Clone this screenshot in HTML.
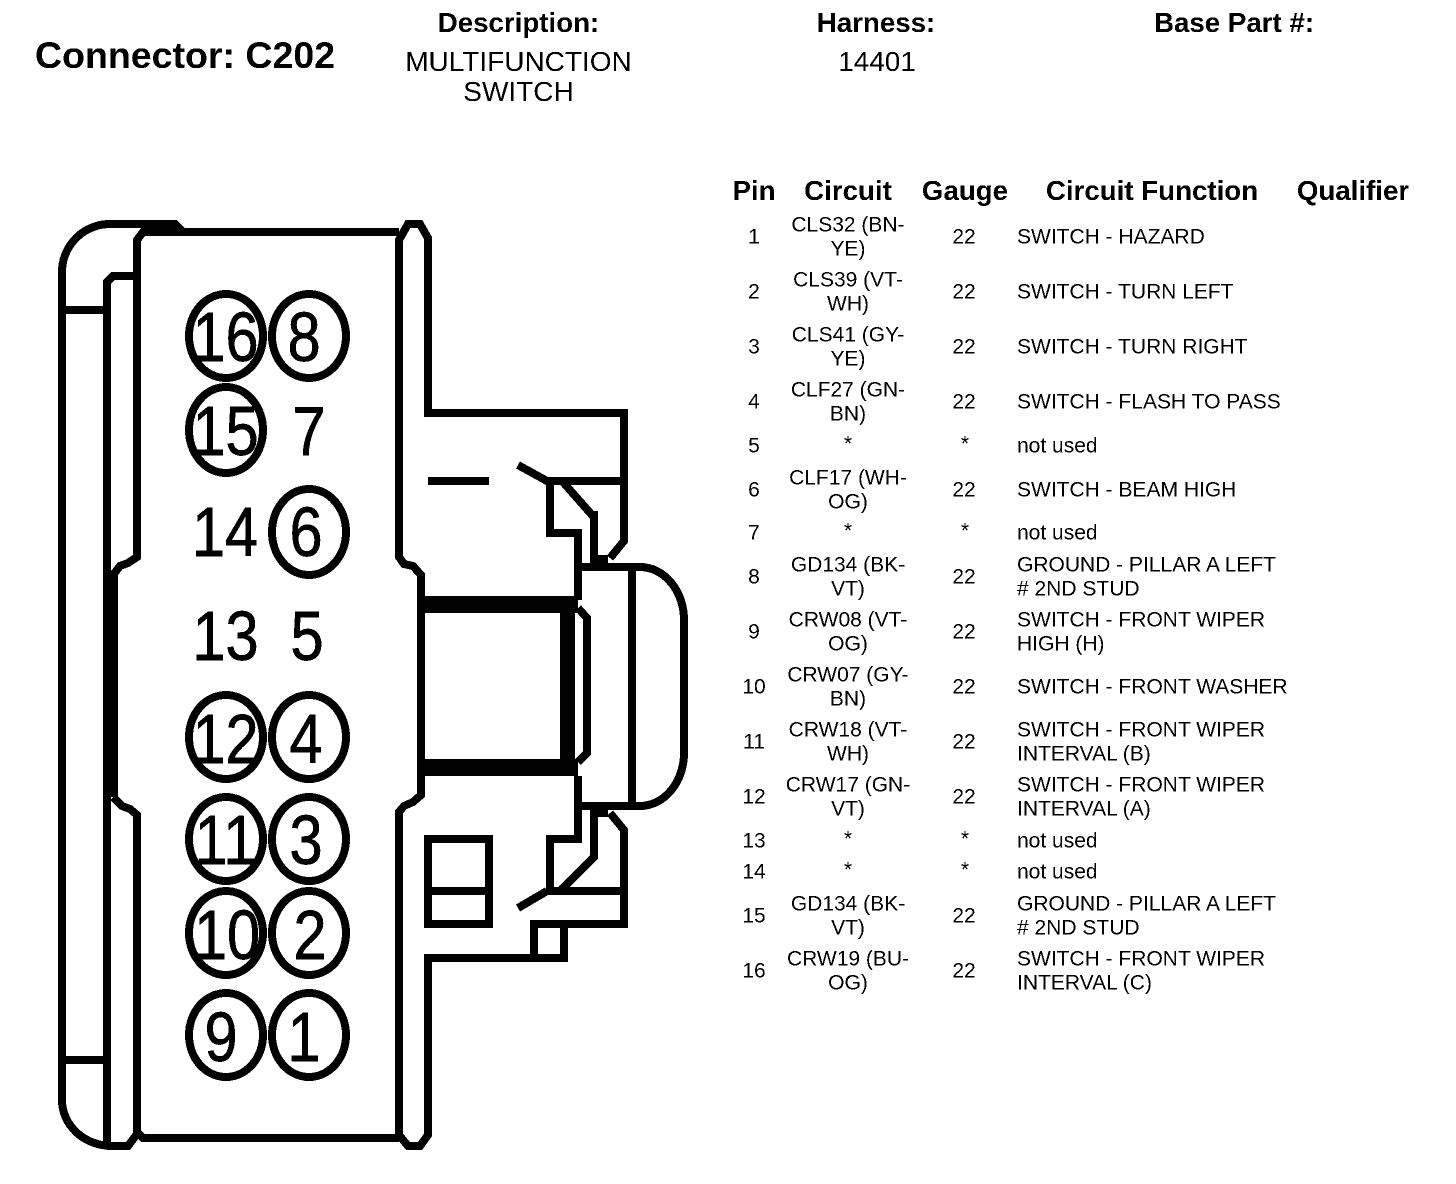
<!DOCTYPE html>
<html>
<head>
<meta charset="utf-8">
<style>
html,body{margin:0;padding:0;background:#fff;width:1456px;height:1184px;overflow:hidden}
svg{display:block}
text{font-family:"Liberation Sans",Arial,sans-serif;fill:#000}
.b{font-weight:700;font-size:27.7px}
.h{font-size:28px}
.t{font-size:21px}
.m{text-anchor:middle}
.d{font-size:70px;text-anchor:middle;stroke:#000;stroke-width:.8px}
.s{fill:none;stroke:#000;stroke-width:8;stroke-linejoin:miter;stroke-linecap:butt}
</style>
</head>
<body>
<svg width="1456" height="1184" viewBox="0 0 1456 1184" xmlns="http://www.w3.org/2000/svg">
<defs>
<filter id="bw" x="0" y="0" width="100%" height="100%" color-interpolation-filters="sRGB">
<feComponentTransfer>
<feFuncR type="discrete" tableValues="0 1"/>
<feFuncG type="discrete" tableValues="0 1"/>
<feFuncB type="discrete" tableValues="0 1"/>
</feComponentTransfer>
</filter>
</defs>
<g filter="url(#bw)">
<rect x="0" y="0" width="1456" height="1184" fill="#fff"/>

<!-- Header -->
<text x="35" y="68" font-weight="700" font-size="37.5px">Connector: C202</text>
<text class="b m" x="518.5" y="32">Description:</text>
<text class="h m" x="518.5" y="71">MULTIFUNCTION</text>
<text class="h m" x="518.5" y="101">SWITCH</text>
<text class="b m" x="876" y="32">Harness:</text>
<text class="h m" x="877" y="71">14401</text>
<text class="b m" x="1234" y="32">Base Part #:</text>

<!-- Table head -->
<text class="b m" x="754" y="200">Pin</text>
<text class="b m" x="848" y="200">Circuit</text>
<text class="b m" x="965" y="200">Gauge</text>
<text class="b m" x="1152" y="200">Circuit Function</text>
<text class="b m" x="1353" y="200">Qualifier</text>

<g transform="translate(0 -0.5)">
<!-- Pin column -->
<text class="t m" x="754" y="244">1</text>
<text class="t m" x="754" y="299">2</text>
<text class="t m" x="754" y="354">3</text>
<text class="t m" x="754" y="409">4</text>
<text class="t m" x="754" y="453">5</text>
<text class="t m" x="754" y="497">6</text>
<text class="t m" x="754" y="540">7</text>
<text class="t m" x="754" y="584">8</text>
<text class="t m" x="754" y="639">9</text>
<text class="t m" x="754" y="694">10</text>
<text class="t m" x="754" y="749">11</text>
<text class="t m" x="754" y="804">12</text>
<text class="t m" x="754" y="848">13</text>
<text class="t m" x="754" y="879">14</text>
<text class="t m" x="754" y="923">15</text>
<text class="t m" x="754" y="978">16</text>

<!-- Circuit column -->
<text class="t m" x="848" y="232">CLS32 (BN-</text><text class="t m" x="848" y="256">YE)</text>
<text class="t m" x="848" y="287">CLS39 (VT-</text><text class="t m" x="848" y="311">WH)</text>
<text class="t m" x="848" y="342">CLS41 (GY-</text><text class="t m" x="848" y="366">YE)</text>
<text class="t m" x="848" y="397">CLF27 (GN-</text><text class="t m" x="848" y="421">BN)</text>
<text class="t m" x="848" y="451">*</text>
<text class="t m" x="848" y="485">CLF17 (WH-</text><text class="t m" x="848" y="509">OG)</text>
<text class="t m" x="848" y="538">*</text>
<text class="t m" x="848" y="572">GD134 (BK-</text><text class="t m" x="848" y="596">VT)</text>
<text class="t m" x="848" y="627">CRW08 (VT-</text><text class="t m" x="848" y="651">OG)</text>
<text class="t m" x="848" y="682">CRW07 (GY-</text><text class="t m" x="848" y="706">BN)</text>
<text class="t m" x="848" y="737">CRW18 (VT-</text><text class="t m" x="848" y="761">WH)</text>
<text class="t m" x="848" y="792">CRW17 (GN-</text><text class="t m" x="848" y="816">VT)</text>
<text class="t m" x="848" y="846">*</text>
<text class="t m" x="848" y="877">*</text>
<text class="t m" x="848" y="911">GD134 (BK-</text><text class="t m" x="848" y="935">VT)</text>
<text class="t m" x="848" y="966">CRW19 (BU-</text><text class="t m" x="848" y="990">OG)</text>

<!-- Gauge column -->
<text class="t m" x="964" y="244">22</text>
<text class="t m" x="964" y="299">22</text>
<text class="t m" x="964" y="354">22</text>
<text class="t m" x="964" y="409">22</text>
<text class="t m" x="965" y="451">*</text>
<text class="t m" x="964" y="497">22</text>
<text class="t m" x="965" y="538">*</text>
<text class="t m" x="964" y="584">22</text>
<text class="t m" x="964" y="639">22</text>
<text class="t m" x="964" y="694">22</text>
<text class="t m" x="964" y="749">22</text>
<text class="t m" x="964" y="804">22</text>
<text class="t m" x="965" y="846">*</text>
<text class="t m" x="965" y="877">*</text>
<text class="t m" x="964" y="923">22</text>
<text class="t m" x="964" y="978">22</text>

<!-- Function column -->
<text class="t" x="1017" y="244">SWITCH - HAZARD</text>
<text class="t" x="1017" y="299">SWITCH - TURN LEFT</text>
<text class="t" x="1017" y="354">SWITCH - TURN RIGHT</text>
<text class="t" x="1017" y="409">SWITCH - FLASH TO PASS</text>
<text class="t" x="1017" y="453">not used</text>
<text class="t" x="1017" y="497">SWITCH - BEAM HIGH</text>
<text class="t" x="1017" y="540">not used</text>
<text class="t" x="1017" y="572">GROUND - PILLAR A LEFT</text><text class="t" x="1017" y="596"># 2ND STUD</text>
<text class="t" x="1017" y="627">SWITCH - FRONT WIPER</text><text class="t" x="1017" y="651">HIGH (H)</text>
<text class="t" x="1017" y="694">SWITCH - FRONT WASHER</text>
<text class="t" x="1017" y="737">SWITCH - FRONT WIPER</text><text class="t" x="1017" y="761">INTERVAL (B)</text>
<text class="t" x="1017" y="792">SWITCH - FRONT WIPER</text><text class="t" x="1017" y="816">INTERVAL (A)</text>
<text class="t" x="1017" y="848">not used</text>
<text class="t" x="1017" y="879">not used</text>
<text class="t" x="1017" y="911">GROUND - PILLAR A LEFT</text><text class="t" x="1017" y="935"># 2ND STUD</text>
<text class="t" x="1017" y="966">SWITCH - FRONT WIPER</text><text class="t" x="1017" y="990">INTERVAL (C)</text>
</g>

<!-- Connector body -->
<g class="s">
<path d="M62 1100 V272 A48 48 0 0 1 110 224 H175 L183 232"/>
<path d="M62 1100 A50 46 0 0 0 112 1146 H128 L137 1134"/>
<path d="M62 310 H103"/>
<path d="M62 1060 H103"/>
<path d="M107 1146 V282 L113 276 H137"/>
<path d="M399 232 H143 L137 240 V557 L128 563 L120 566 L113 575"/>
<path d="M113 797 L122 806 L130 809 L137 815 V1132 L143 1138 H399"/>

<path d="M610 558 L624 541 V413 H428 V238 L420 224 H408 L399 240 V557 L404 564 L413 566 L421 575 V795 L413 802 L404 806 L399 812 V1135 L408 1146 H420 L428 1135 V958 H564 V924"/>
<path d="M534 958 V924 H624 V830 L610 813"/>

<path d="M428 481 H489"/>
<path d="M518 465 L547 481 H624"/>
<path d="M550 481 V533 H578 V600"/>
<path d="M562 481 L592 515 H594 V559 H608"/>
<path d="M578 567 H640 A44 53 0 0 1 684 620 V753 A44 53 0 0 1 640 806 H578"/>
<path d="M632 567 V806"/>
<path d="M578 608 L587 618 V753 L578 762"/>
<path d="M578 776 V839 H550 V891 H624"/>
<path d="M518 908 L547 891"/>
<path d="M560 891 L594 857 V813 H608"/>
<rect x="428" y="839" width="61" height="85"/>
<path d="M428 891 H489"/>

<ellipse cx="226" cy="336" rx="37" ry="42"/>
<ellipse cx="309" cy="336" rx="37" ry="42"/>
<ellipse cx="226" cy="430" rx="37" ry="43"/>
<ellipse cx="309" cy="532" rx="37" ry="43"/>
<ellipse cx="226" cy="737" rx="37" ry="42"/>
<ellipse cx="309" cy="737" rx="37" ry="42"/>
<ellipse cx="226" cy="839" rx="37" ry="42"/>
<ellipse cx="309" cy="839" rx="37" ry="42"/>
<ellipse cx="226" cy="933" rx="37" ry="42"/>
<ellipse cx="309" cy="933" rx="37" ry="42"/>
<ellipse cx="226" cy="1035" rx="37" ry="42"/>
<ellipse cx="309" cy="1035" rx="37" ry="42"/>
</g>
<rect x="103" y="573" width="15" height="224" fill="#000"/>
<rect x="417" y="596" width="161" height="17" fill="#000"/>
<rect x="417" y="759" width="161" height="17" fill="#000"/>
<rect x="560" y="596" width="15" height="180" fill="#000"/>

<!-- Pin numbers -->
<g>
<text class="d" transform="translate(225.5 361) scale(.85 1)">16</text>
<text class="d" transform="translate(304 361) scale(.85 1)">8</text>
<text class="d" transform="translate(225.5 455) scale(.85 1)">15</text>
<text class="d" transform="translate(309 455) scale(.85 1)">7</text>
<text class="d" transform="translate(225 556) scale(.85 1)">14</text>
<text class="d" transform="translate(306 556) scale(.85 1)">6</text>
<text class="d" transform="translate(225.5 660) scale(.85 1)">13</text>
<text class="d" transform="translate(307 660) scale(.85 1)">5</text>
<text class="d" transform="translate(225.5 763) scale(.85 1)">12</text>
<text class="d" transform="translate(306 763) scale(.85 1)">4</text>
<text class="d" transform="translate(225.5 864) scale(.85 1)">11</text>
<text class="d" transform="translate(306 864) scale(.85 1)">3</text>
<text class="d" transform="translate(227 959) scale(.85 1)">10</text>
<text class="d" transform="translate(310 959) scale(.85 1)">2</text>
<text class="d" transform="translate(221 1061) scale(.85 1)">9</text>
<text class="d" transform="translate(304 1061) scale(.85 1)">1</text>
</g>
</g>
</svg>
</body>
</html>
